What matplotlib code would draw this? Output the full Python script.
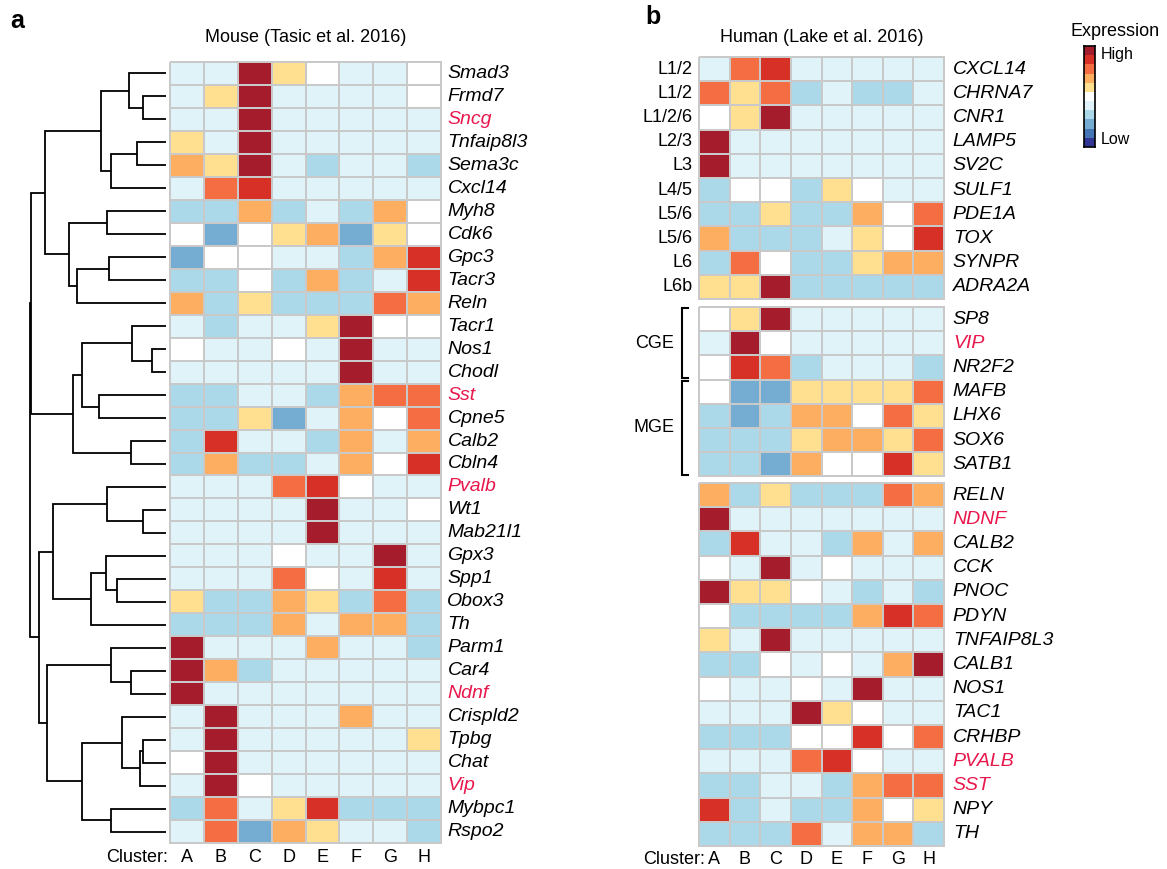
import numpy as np
import matplotlib
matplotlib.use('Agg')
import matplotlib.pyplot as plt
from matplotlib.colors import ListedColormap, BoundaryNorm

plt.rcParams['font.family'] = ['Liberation Sans', 'DejaVu Sans']

# ---------------- DATA ----------------
clusters = list('ABCDEFGH')

mouse_genes = ['Smad3', 'Frmd7', 'Sncg', 'Tnfaip8l3', 'Sema3c', 'Cxcl14', 'Myh8', 'Cdk6',
               'Gpc3', 'Tacr3', 'Reln', 'Tacr1', 'Nos1', 'Chodl', 'Sst', 'Cpne5', 'Calb2',
               'Cbln4', 'Pvalb', 'Wt1', 'Mab21l1', 'Gpx3', 'Spp1', 'Obox3', 'Th', 'Parm1',
               'Car4', 'Ndnf', 'Crispld2', 'Tpbg', 'Chat', 'Vip', 'Mybpc1', 'Rspo2']
mouse_highlight = ['Sncg', 'Sst', 'Pvalb', 'Ndnf', 'Vip']
# expression level (-5 low ... 5 high)
mouse_values = [
    [-1, -1, 5, 1, 0, -1, -1, 0],
    [-1, 1, 5, -1, -1, -1, -1, 0],
    [-1, -1, 5, -1, -1, -1, -1, -1],
    [1, -1, 5, -1, -1, -1, -1, -1],
    [2, 1, 5, -1, -2, -1, -1, -2],
    [-1, 3, 4, -1, -1, -1, -1, -1],
    [-2, -2, 2, -2, -1, -2, 2, 0],
    [0, -3, 0, 1, 2, -3, 1, 0],
    [-3, 0, 0, -1, -1, -2, 2, 4],
    [-2, -2, 0, -2, 2, -2, -1, 4],
    [2, -2, 1, -2, -2, -2, 3, 2],
    [-1, -2, -1, -1, 1, 5, 0, 0],
    [0, -1, -1, 0, -1, 5, -1, -1],
    [-1, -1, -1, -1, -1, 5, -1, -1],
    [-2, -2, -1, -1, -2, 2, 3, 3],
    [-2, -2, 1, -3, -1, 2, 0, 3],
    [-2, 4, -1, -1, -2, 2, -1, 2],
    [-2, 2, -2, -2, -1, 2, 0, 4],
    [-1, -1, -1, 3, 4, 0, -1, -1],
    [-1, -1, -1, -1, 5, -1, -1, 0],
    [-1, -1, -1, -1, 5, -1, -1, -1],
    [-1, -1, -1, 0, -1, -1, 5, -1],
    [-1, -1, -1, 3, 0, -1, 4, -1],
    [1, -2, -2, 2, 1, -2, 3, -2],
    [-2, -2, -2, 2, -1, 2, 2, -2],
    [5, -1, -1, -1, 2, -1, -1, -2],
    [5, 2, -2, -1, -1, -1, -1, -1],
    [5, -1, -1, -1, -1, -1, -1, -1],
    [-1, 5, -1, -1, -1, 2, -1, -1],
    [-1, 5, -1, -1, -1, -1, -1, 1],
    [0, 5, -1, -1, -1, -1, -1, -1],
    [-1, 5, 0, -1, -1, -1, -1, -1],
    [-2, 3, -1, 1, 4, -2, -2, -2],
    [-1, 3, -3, 2, 1, -1, -1, -2],
]

# hierarchical clustering of mouse genes: (merge height, left, right); leaves = row index
mouse_tree = (1.00,
              (0.99,
               (0.89,
                (0.48, (0.27, 0, (0.17, 1, 2)), (0.40, (0.21, 3, 4), 5)),
                (0.71, (0.43, 6, 7), (0.65, (0.42, 8, 9), 10))),
               (0.68,
                (0.62, (0.25, 11, (0.10, 12, 13)), (0.49, 14, 15)),
                (0.26, 16, 17))),
              (0.93,
               (0.83,
                (0.43, 18, (0.17, 19, 20)),
                (0.55, (0.44, 21, (0.36, 22, 23)), 24)),
               (0.87,
                (0.40, 25, (0.26, 26, 27)),
                (0.62, (0.32, 28, (0.19, (0.17, 29, 30), 31)), (0.40, 32, 33)))))

layer_labels = ['L1/2', 'L1/2', 'L1/2/6', 'L2/3', 'L3', 'L4/5', 'L5/6', 'L5/6', 'L6', 'L6b']
human_genes_1 = ['CXCL14', 'CHRNA7', 'CNR1', 'LAMP5', 'SV2C', 'SULF1', 'PDE1A', 'TOX',
                 'SYNPR', 'ADRA2A']
human_values_1 = [
    [-1, 3, 4, -1, -1, -1, -1, -1],
    [3, 1, 3, -2, -1, -2, -2, -1],
    [0, 1, 5, -1, -1, -1, -1, -1],
    [5, -1, -1, -1, -1, -1, -1, -1],
    [5, -1, -1, -1, -1, -1, -1, -1],
    [-2, 0, 0, -2, 1, 0, -1, -1],
    [-2, -2, 1, -2, -2, 2, 0, 3],
    [2, -2, -2, -2, -1, 1, 0, 4],
    [-2, 3, 0, -2, -2, 1, 2, 2],
    [1, 1, 5, -2, -2, -2, -2, -2],
]
human_genes_2 = ['SP8', 'VIP', 'NR2F2', 'MAFB', 'LHX6', 'SOX6', 'SATB1']
origin_groups = [('CGE', 0, 3), ('MGE', 3, 7)]
human_values_2 = [
    [0, 1, 5, -1, -1, -1, -1, -1],
    [-1, 5, 0, -1, -1, -1, -1, -1],
    [0, 4, 3, -2, -1, -1, -1, -2],
    [0, -3, -3, 1, 1, 1, 1, 3],
    [-2, -3, -2, 2, 2, 0, 3, 1],
    [-2, -2, -2, 1, 2, 2, 1, 3],
    [-2, -2, -3, 2, 0, 0, 4, 1],
]
human_genes_3 = ['RELN', 'NDNF', 'CALB2', 'CCK', 'PNOC', 'PDYN', 'TNFAIP8L3', 'CALB1',
                 'NOS1', 'TAC1', 'CRHBP', 'PVALB', 'SST', 'NPY', 'TH']
human_values_3 = [
    [2, -2, 1, -2, -2, -2, 3, 2],
    [5, -1, -1, -1, -1, -1, -1, -1],
    [-2, 4, -1, -1, -2, 2, -1, 2],
    [0, -1, 5, -1, 0, -1, -1, -1],
    [5, 1, 1, 0, -1, -2, -1, -2],
    [0, -2, -2, -2, -2, 2, 4, 3],
    [1, -1, 5, -1, -1, -1, -1, -1],
    [-2, -2, 0, -1, 0, -1, 2, 5],
    [0, -1, -1, 0, -1, 5, -1, -1],
    [-1, -1, -1, 5, 1, 0, -1, -1],
    [-2, -2, -2, 0, 0, 4, 0, 3],
    [-1, -1, -1, 3, 4, 0, -1, -1],
    [-2, -2, -1, -1, -2, 2, 3, 3],
    [4, -2, -1, -2, -2, 2, 0, 1],
    [-2, -2, -2, 3, -1, 2, 2, -2],
]
human_highlight = ['VIP', 'NDNF', 'PVALB', 'SST']
colorbar_levels = list(range(-5, 6))

# ---------------- STYLE ----------------
level_colors = ['#313695', '#4575b4', '#74add1', '#abd9e9', '#e0f3f8', '#ffffff',
                '#fee090', '#fdae61', '#f46d43', '#d73027', '#a51d2d']
cmap = ListedColormap(level_colors)
norm = BoundaryNorm(np.arange(-5.5, 6.5, 1), cmap.N)
GRID = '#c9c9c9'
RED = '#e8174c'

W, H = 1167, 869
fig = plt.figure(figsize=(W / 100, H / 100), dpi=100)


def px_axes(x0, y0, x1, y1):
    return fig.add_axes([x0 / W, 1 - y1 / H, (x1 - x0) / W, (y1 - y0) / H])


def heatmap(ax, vals):
    v = np.array(vals)
    nr, nc = v.shape
    m = ax.pcolormesh(np.arange(nc + 1), np.arange(nr + 1), v, cmap=cmap, norm=norm,
                      edgecolors=GRID, linewidth=1.3)
    m.set_clip_on(False)
    ax.set_xlim(0, nc)
    ax.set_ylim(nr, 0)
    ax.axis('off')


def right_labels(ax, genes, highlight, off, fs=14):
    for i, g in enumerate(genes):
        ax.text(8 + off, i + 0.5, g, ha='left', va='center', fontsize=fs, style='italic',
                color=RED if g in highlight else 'black')


# ---------------- PANEL a ----------------
axL = px_axes(170, 62, 441, 843)
heatmap(axL, mouse_values)
right_labels(axL, mouse_genes, mouse_highlight, 0.19)
for j, c in enumerate(clusters):
    axL.text(j + 0.5, len(mouse_genes) + 0.62, c, ha='center', va='center', fontsize=13)
axL.text(-0.05, len(mouse_genes) + 0.62, 'Cluster:', ha='right', va='center', fontsize=13)
axL.text(4, -1.05, 'Mouse (Tasic et al. 2016)', ha='center', va='center', fontsize=13)

axD = px_axes(27, 62, 166, 843)
axD.set_xlim(1.02, 0)
axD.set_ylim(len(mouse_genes), 0)
axD.axis('off')


def draw_tree(ax, node):
    if isinstance(node, int):
        return node + 0.5, 0.0
    h, l, r = node
    yl, hl = draw_tree(ax, l)
    yr, hr = draw_tree(ax, r)
    ax.plot([hl, h, h, hr], [yl, yl, yr, yr], color='black', lw=1.3,
            solid_joinstyle='miter', solid_capstyle='butt')
    return (yl + yr) / 2, h


draw_tree(axD, mouse_tree)

# ---------------- PANEL b ----------------
row_h = 24.2
b_tops = [57, 307, 483]
blocks = [(human_genes_1, human_values_1), (human_genes_2, human_values_2),
          (human_genes_3, human_values_3)]
axes_b = []
for top, (genes, vals) in zip(b_tops, blocks):
    ax = px_axes(699, top, 944, top + row_h * len(genes))
    heatmap(ax, vals)
    right_labels(ax, genes, human_highlight, 0.29)
    axes_b.append(ax)

ax1, ax2, ax3 = axes_b
for i, lab in enumerate(layer_labels):
    ax1.text(-0.22, i + 0.5, lab, ha='right', va='center', fontsize=13)
ax1.text(4, -0.82, 'Human (Lake et al. 2016)', ha='center', va='center', fontsize=13)

for j, c in enumerate(clusters):
    ax3.text(j + 0.5, len(human_genes_3) + 0.55, c, ha='center', va='center', fontsize=13)
ax3.text(0.2, len(human_genes_3) + 0.55, 'Cluster:', ha='right', va='center', fontsize=13)

# brackets for CGE / MGE
for name, s, e in origin_groups:
    y0, y1 = s + 0.05, e - 0.05
    ax2.plot([-0.35, -0.55, -0.55, -0.35], [y0, y0, y1, y1], color='black', lw=1.5,
             clip_on=False, solid_joinstyle='miter')
    ax2.text(-0.8, (s + e) / 2, name, ha='right', va='center', fontsize=13)

# colorbar
axC = px_axes(1084, 46, 1095, 147)
cb = np.array(colorbar_levels)[:, None]
axC.pcolormesh([0, 1], np.arange(len(colorbar_levels) + 1), cb, cmap=cmap, norm=norm)
axC.set_xlim(0, 1)
axC.set_ylim(0, len(colorbar_levels))
axC.set_xticks([])
axC.set_yticks([])
for s in axC.spines.values():
    s.set_linewidth(1.2)
fig.text(1115 / W, 1 - 32 / H, 'Expression', ha='center', va='center', fontsize=13)
fig.text(1101 / W, 1 - 54 / H, 'High', ha='left', va='center', fontsize=11.5)
fig.text(1101 / W, 1 - 140 / H, 'Low', ha='left', va='center', fontsize=11.5)

# panel letters
fig.text(10 / W, 1 - 21 / H, 'a', ha='left', va='center', fontsize=18, fontweight='bold')
fig.text(645 / W, 1 - 17 / H, 'b', ha='left', va='center', fontsize=18, fontweight='bold')

fig.savefig('out.png', dpi=100)
